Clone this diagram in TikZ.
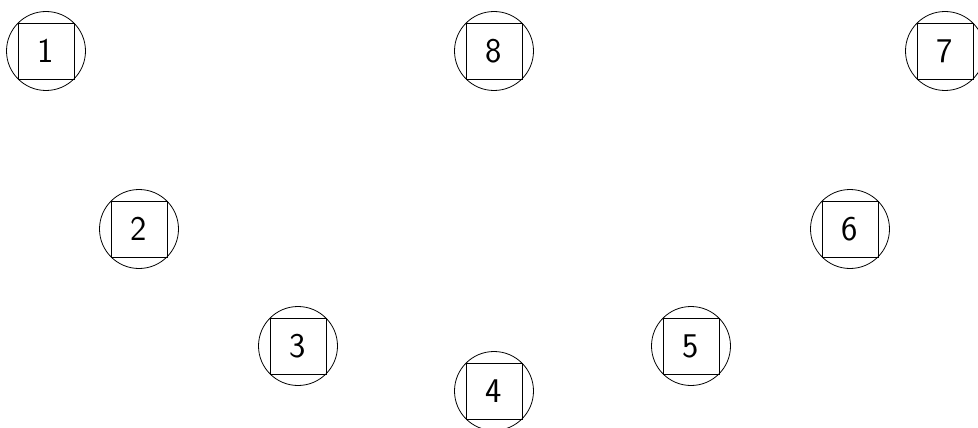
\documentclass[tikz,border=0pt]{standalone}
\def\px{0.75pt}

\begin{document}
\begin{tikzpicture}[x=\px, y=-\px, line width=0.6pt,
    ring/.style={circle, draw, inner sep=0pt, minimum size=79*\px},
    box/.style={rectangle, draw, inner sep=0pt, minimum size=55.9*\px,
      font=\sffamily\fontsize{26}{26}\selectfont}]
      \useasboundingbox (0,0) rectangle (978,428);
      \node[ring] (ring1) at (46, 51) {};
      \node[ring] (ring8) at (494, 51) {};
      \node[ring] (ring7) at (945, 51) {};
      \node[ring] (ring2) at (139, 229) {};
      \node[ring] (ring6) at (850, 229) {};
      \node[ring] (ring3) at (298, 346) {};
      \node[ring] (ring5) at (691, 346) {};
      \node[ring] (ring4) at (494, 391) {};
      \node[box] (box1) at (ring1) {1};
      \node[box] (box8) at (ring8) {8};
      \node[box] (box7) at (ring7) {7};
      \node[box] (box2) at (ring2) {2};
      \node[box] (box6) at (ring6) {6};
      \node[box] (box3) at (ring3) {3};
      \node[box] (box5) at (ring5) {5};
      \node[box] (box4) at (ring4) {4};
    \end{tikzpicture}
\end{document}
